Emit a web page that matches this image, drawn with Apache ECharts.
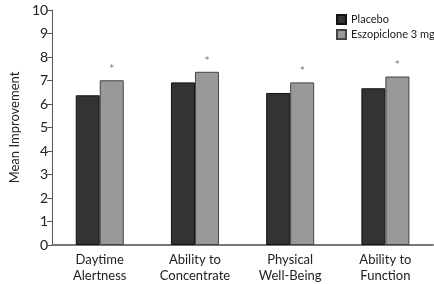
<!DOCTYPE html>
<html>
<head>
<meta charset="utf-8">
<script src="https://cdn.jsdelivr.net/npm/echarts@6/dist/echarts.min.js"></script>
<style>
  html, body { margin: 0; padding: 0; background: #fff; }
  #main { width: 434px; height: 284px; }
</style>
</head>
<body>
<div id="main"></div>
<script>
// categories + values
const categories = ['Daytime\nAlertness', 'Ability to\nConcentrate', 'Physical\nWell-Being', 'Ability to\nFunction'];
const placebo = [6.37, 6.92, 6.47, 6.67];
const eszopiclone = [7.01, 7.37, 6.92, 7.17];
const yTicks = [0, 10, 1];  // min, max, interval

const chart = echarts.init(document.getElementById('main'));
const font = 'Lato';

const option = {
    animation: false,
    textStyle: { fontFamily: font },
    grid: { left: 49, right: 1, top: 10, bottom: 36 },
    legend: {
        orient: 'vertical',
        left: 331, top: 8,
        icon: 'rect',
        itemWidth: 9, itemHeight: 9, itemGap: 2,
        textStyle: { fontFamily: font, fontSize: 11, lineHeight: 13, color: '#222' },
        data: ['Placebo', 'Eszopiclone 3 mg']
    },
    xAxis: {
        type: 'category',
        data: categories,
        axisLine: { lineStyle: { color: '#777', width: 2 } },
        axisTick: { show: false },
        axisLabel: { fontFamily: font, fontSize: 13, color: '#222', lineHeight: 16, margin: 7 }
    },
    yAxis: {
        type: 'value',
        min: yTicks[0], max: yTicks[1], interval: yTicks[2],
        name: 'Mean Improvement',
        nameLocation: 'middle',
        nameGap: 31,
        nameTextStyle: { fontFamily: font, fontSize: 13, color: '#222' },
        splitLine: { show: false },
        axisLine: { show: true, lineStyle: { color: '#555', width: 1 } },
        axisTick: { show: true, length: 5, lineStyle: { color: '#555' } },
        axisLabel: { fontFamily: font, fontSize: 14, color: '#222', margin: 4 }
    },
    series: [
        {
            name: 'Placebo',
            type: 'bar',
            data: placebo,
            barWidth: 24,
            barGap: '0%',
            itemStyle: { color: '#333', borderColor: '#111', borderWidth: 1 }
        },
        {
            name: 'Eszopiclone 3 mg',
            type: 'bar',
            data: eszopiclone,
            barWidth: 24,
            barGap: '0%',
            itemStyle: { color: '#999', borderColor: '#444', borderWidth: 1 },
            label: {
                show: true, position: 'top', formatter: '*', distance: 5,
                fontSize: 12, color: '#777', fontFamily: font
            }
        }
    ]
};
chart.setOption(option);
</script>
</body>
</html>
